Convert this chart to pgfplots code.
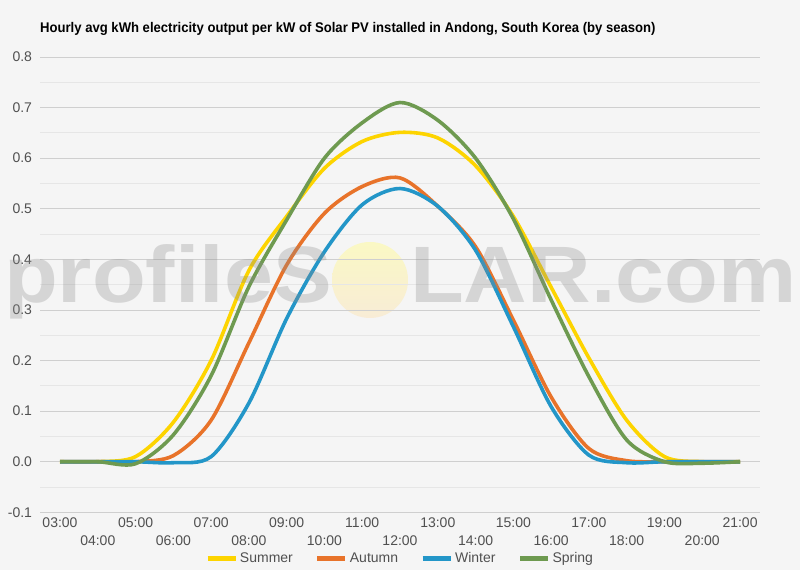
\documentclass[border=0pt]{standalone}
\usepackage{pgfplots}
\pgfplotsset{compat=1.18}
\usepackage{pgfplotstable}
\usepackage{fontspec}
\setmainfont{Liberation Sans}
\usepackage{graphicx}

\definecolor{bgc}{HTML}{F5F5F5}
\definecolor{summer}{HTML}{FDD400}
\definecolor{autumn}{HTML}{E8732A}
\definecolor{winter}{HTML}{2396C8}
\definecolor{spring}{HTML}{6E9A50}
\definecolor{gridmaj}{HTML}{CFCFCF}
\definecolor{gridmin}{HTML}{E6E6E6}
\definecolor{ticktext}{HTML}{505050}
\definecolor{wmark}{HTML}{8C8C8C}
\definecolor{suntop}{HTML}{FAF8C4}
\definecolor{sunbot}{HTML}{F8ECD6}

% hourly average kWh per kW installed
\pgfplotstableread{
hour summer autumn winter spring
3    0      0      0      0
4    0      0      0      0
5    0.010  0      0      -0.004
6    0.078  0.012  -0.002 0.053
7    0.200  0.082  0.010  0.170
8    0.378  0.235  0.116  0.346
9    0.485  0.389  0.283  0.478
10   0.580  0.491  0.415  0.600
11   0.633  0.544  0.508  0.670
12   0.651  0.561  0.540  0.710
13   0.640  0.505  0.505  0.675
14   0.585  0.425  0.418  0.600
15   0.485  0.280  0.267  0.480
16   0.345  0.128  0.109  0.320
17   0.205  0.026  0.013  0.168
18   0.082  0.002  -0.002 0.043
19   0.010  0      0      0
20   0      0      0      -0.003
21   0      0      0      0
}\solar

\begin{document}
\begin{tikzpicture}[x=1bp,y=1bp]
\fill[bgc] (0,0) rectangle (800,570);
\path[use as bounding box] (0,0) rectangle (800,570);

\node[anchor=base west, inner sep=0, font=\fontsize{14bp}{16bp}\selectfont\bfseries]
  at (40,537) {\scalebox{0.935}[1]{Hourly avg kWh electricity output per kW of Solar PV installed in Andong, South Korea (by season)}};

\shade[top color=suntop, bottom color=sunbot] (370,290) circle (38);

\begin{axis}[
    at={(40bp,57.7bp)}, anchor=south west,
    scale only axis,
    width=720bp, height=455.3bp,
    xmin=2.4706, xmax=21.529,
    ymin=-0.1, ymax=0.8,
    axis line style={draw=none},
    major tick length=0pt, minor tick length=0pt,
    xtick={3,5,...,21},
    xticklabels={03:00,05:00,07:00,09:00,11:00,13:00,15:00,17:00,19:00,21:00},
    extra x ticks={4,6,...,20},
    extra x tick labels={04:00,06:00,08:00,10:00,12:00,14:00,16:00,18:00,20:00},
    extra x tick style={grid=none, xticklabel style={yshift=-18bp}},
    xticklabel style={anchor=base, yshift=-15bp},
    ytick={-0.1,0,...,0.8},
    minor y tick num=1,
    ymajorgrids, yminorgrids,
    major grid style={gridmaj, line width=0.8bp},
    minor grid style={gridmin, line width=0.8bp},
    extra y ticks={0}, extra y tick labels={},
    extra y tick style={grid style={black, line width=0.8bp}},
    yticklabel style={/pgf/number format/.cd, fixed, fixed zerofill, precision=1, /tikz/.cd, anchor=east, xshift=-4.5bp},
    /pgf/number format/assume math mode=true,
    tick label style={font=\fontsize{14bp}{16bp}\selectfont, text=ticktext},
    legend style={at={(0.5,-0.1004)}, anchor=center, draw=none, fill=none,
        legend columns=4, font=\fontsize{14bp}{16bp}\selectfont, text=ticktext,
        /tikz/every even column/.append style={column sep=20bp}},
    legend image code/.code={\draw[line width=5bp] (0bp,0bp) -- (28bp,0bp);},
    every axis plot/.append style={line width=3.6bp, smooth},
]
\addplot[summer] table[x=hour, y=summer] {\solar};
\addplot[autumn] table[x=hour, y=autumn] {\solar};
\addplot[winter] table[x=hour, y=winter] {\solar};
\addplot[spring] table[x=hour, y=spring] {\solar};
\legend{Summer, Autumn, Winter, Spring}
\end{axis}

\begin{scope}[opacity=0.3]
\node[anchor=base west, inner sep=0, text=wmark, font=\fontsize{80bp}{90bp}\selectfont\bfseries]
  at (4,267) {\scalebox{1.1}[1]{profileS}};
\node[anchor=base west, inner sep=0, text=wmark, font=\fontsize{80bp}{90bp}\selectfont\bfseries]
  at (410,267) {\scalebox{1.1}[1]{LAR.com}};
\end{scope}
\end{tikzpicture}
\end{document}
